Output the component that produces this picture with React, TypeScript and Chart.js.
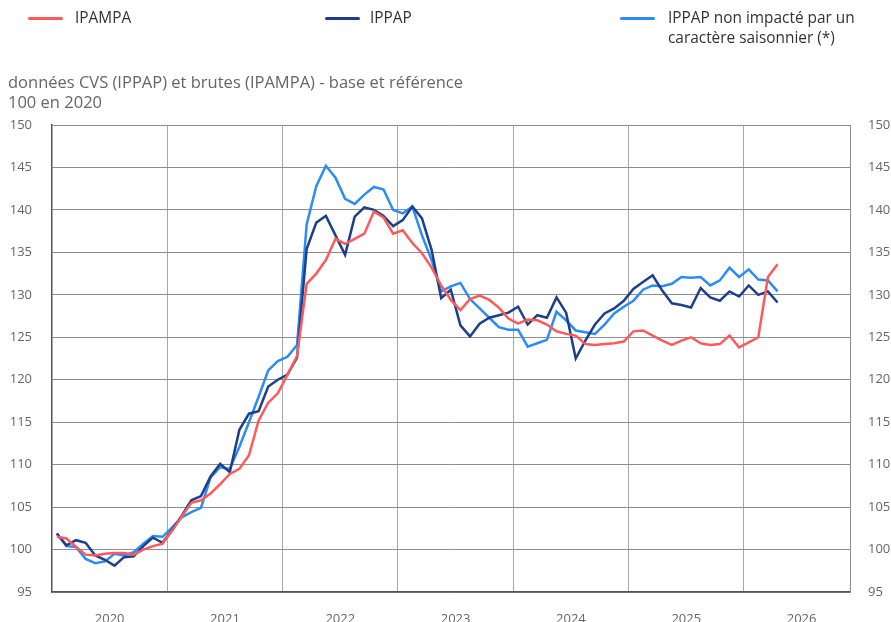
import React, { useEffect, useRef } from "react";
import { Chart, registerables } from "chart.js";

Chart.register(...registerables);

// Monthly categories, Jan 2020 -> Apr 2026
const months: string[] = Array.from({ length: 76 }, (_, i) => {
  const y = 2020 + Math.floor(i / 12);
  const m = (i % 12) + 1;
  return `${y}-${String(m).padStart(2, "0")}`;
});

const yearLabels = ["2020", "2021", "2022", "2023", "2024", "2025", "2026"];
const yTicks = [95, 100, 105, 110, 115, 120, 125, 130, 135, 140, 145, 150];

const ipampa = [
  101.5, 101.3, 100.3, 99.4, 99.3, 99.5, 99.6, 99.6, 99.4, 100.0, 100.4, 100.7,
  102.2, 103.9, 105.5, 105.8, 106.6, 107.7, 108.9, 109.5, 111.1, 115.2, 117.3, 118.4,
  120.6, 122.8, 131.3, 132.5, 134.1, 136.6, 136.0, 136.6, 137.2, 139.8, 139.1, 137.2,
  137.6, 136.1, 134.9, 133.2, 131.1, 129.4, 128.2, 129.5, 129.9, 129.4, 128.5, 127.2,
  126.6, 127.1, 127.0, 126.5, 125.7, 125.4, 125.2, 124.2, 124.1, 124.2, 124.3, 124.5,
  125.7, 125.8, 125.2, 124.6, 124.1, 124.6, 125.0, 124.3, 124.1, 124.2, 125.2, 123.8,
  124.4, 125.0, 132.1, 133.6,
];

const ippap = [
  101.9, 100.5, 101.1, 100.8, 99.3, 98.8, 98.1, 99.1, 99.2, 100.4, 101.4, 100.8,
  102.3, 104.0, 105.8, 106.3, 108.6, 110.1, 109.1, 114.1, 116.0, 116.3, 119.2, 120.0,
  120.6, 122.6, 135.4, 138.5, 139.3, 137.0, 134.7, 139.2, 140.3, 140.0, 139.3, 138.1,
  138.8, 140.4, 139.0, 135.3, 129.6, 130.6, 126.4, 125.1, 126.6, 127.3, 127.6, 127.9,
  128.6, 126.5, 127.6, 127.3, 129.7, 127.9, 122.5, 124.6, 126.5, 127.8, 128.4, 129.3,
  130.7, 131.5, 132.3, 130.5, 129.0, 128.8, 128.5, 130.8, 129.7, 129.3, 130.4, 129.8,
  131.1, 130.0, 130.4, 129.1,
];

const ippapNonSaisonnier = [
  101.9, 100.4, 100.3, 98.9, 98.4, 98.6, 99.5, 99.3, 99.7, 100.7, 101.6, 101.5,
  102.6, 103.8, 104.4, 104.9, 108.5, 109.7, 109.5, 112.1, 115.0, 118.0, 121.1, 122.2,
  122.7, 124.1, 138.3, 142.8, 145.2, 143.8, 141.3, 140.7, 141.8, 142.7, 142.4, 140.0,
  139.6, 140.4, 137.0, 134.1, 130.4, 131.0, 131.4, 129.5, 128.4, 127.3, 126.2, 125.9,
  125.9, 123.9, 124.3, 124.7, 128.0, 127.0, 125.8, 125.6, 125.4, 126.5, 127.8, 128.6,
  129.3, 130.6, 131.1, 131.0, 131.3, 132.1, 132.0, 132.1, 131.1, 131.7, 133.2, 132.1,
  133.0, 131.8, 131.7, 130.4,
];

const seriesNames = ["IPAMPA", "IPPAP", "IPPAP non impacté par un caractère saisonnier (*)"];
const seriesColors = ["#ff5a5a", "#1c3f8c", "#2b8cf7"];

const toXY = (vals: number[]) =>
  vals.map((v, i) => {
    const [y, m] = months[i].split("-").map(Number);
    return { x: y + (m - 0.5) / 12, y: v };
  });

const FONT = "'Open Sans', 'Noto Sans', sans-serif";

export default function App() {
  const ref = useRef<HTMLCanvasElement | null>(null);

  useEffect(() => {
    if (!ref.current) return;
    const chart = new Chart(ref.current, {
      type: "line",
      data: {
        datasets: [ipampa, ippap, ippapNonSaisonnier].map((vals, k) => ({
          label: seriesNames[k],
          data: toXY(vals),
          borderColor: seriesColors[k],
          backgroundColor: seriesColors[k],
          borderWidth: 2.5,
          pointRadius: 0,
          tension: 0,
          fill: false,
        })),
      },
      options: {
        responsive: false,
        animation: false,
        events: [],
        layout: { padding: { top: 125, left: 0, right: 0, bottom: 0 } },
        plugins: {
          legend: { display: false },
          title: { display: false },
          tooltip: { enabled: false },
        },
        scales: {
          x: {
            type: "linear",
            min: 2020,
            max: 2026.92,
            afterBuildTicks: (s: any) => {
              s.ticks = yearLabels.map((y) => ({ value: Number(y) + 0.5 }));
            },
            afterFit: (s: any) => {
              s.height = 30;
            },
            ticks: {
              autoSkip: false,
              maxRotation: 0,
              padding: 19,
              color: "#666",
              font: { family: FONT, size: 13 },
              callback: (v: any) => String(Math.floor(Number(v))),
            },
            grid: { offset: true, color: "#a8a8a8", lineWidth: 1, drawTicks: false },
            border: { color: "#555", width: 1.5 },
          },
          y: {
            type: "linear",
            position: "left",
            min: 95,
            max: 150,
            afterBuildTicks: (s: any) => {
              s.ticks = yTicks.map((v) => ({ value: v }));
            },
            afterFit: (s: any) => {
              s.width = 52;
            },
            ticks: {
              padding: 20,
              color: "#666",
              font: { family: FONT, size: 13 },
            },
            grid: { color: "#8e8e8e", lineWidth: 1, drawTicks: false },
            border: { color: "#555", width: 1.5 },
          },
          y2: {
            type: "linear",
            position: "right",
            min: 95,
            max: 150,
            afterBuildTicks: (s: any) => {
              s.ticks = yTicks.map((v) => ({ value: v }));
            },
            afterFit: (s: any) => {
              s.width = 41;
            },
            ticks: {
              padding: 18,
              color: "#666",
              font: { family: FONT, size: 13 },
            },
            grid: { display: false, drawTicks: false },
            border: { color: "#8e8e8e", width: 1 },
          },
        },
      },
    });
    return () => chart.destroy();
  }, []);

  const legendItems = [
    { line: 28, text: 75, lines: ["IPAMPA"] },
    { line: 325, text: 370, lines: ["IPPAP"] },
    { line: 620, text: 668, lines: ["IPPAP non impacté par un", "caractère saisonnier (*)"] },
  ];

  return (
    <div
      style={{
        position: "absolute",
        left: 0,
        top: 0,
        width: 891,
        height: 622,
        overflow: "hidden",
        background: "#fff",
        fontFamily: FONT,
      }}
    >
      <canvas ref={ref} width={891} height={622} style={{ position: "absolute", left: 0, top: 0 }} />
      {legendItems.map((it, k) => (
        <React.Fragment key={k}>
          <div
            style={{
              position: "absolute",
              left: it.line,
              top: 16.5,
              width: 35,
              height: 3,
              borderRadius: 1.5,
              background: seriesColors[k],
            }}
          />
          <div
            style={{
              position: "absolute",
              left: it.text,
              top: 8,
              fontSize: 15.4,
              lineHeight: "20px",
              color: "#333",
              whiteSpace: "nowrap",
            }}
          >
            {it.lines.map((l, j) => (
              <div key={j}>{l}</div>
            ))}
          </div>
        </React.Fragment>
      ))}
      <div
        style={{
          position: "absolute",
          left: 8,
          top: 72,
          fontSize: 16.5,
          lineHeight: "20px",
          color: "#666",
          whiteSpace: "nowrap",
        }}
      >
        <div>données CVS (IPPAP) et brutes (IPAMPA) - base et référence</div>
        <div>100 en 2020</div>
      </div>
    </div>
  );
}
